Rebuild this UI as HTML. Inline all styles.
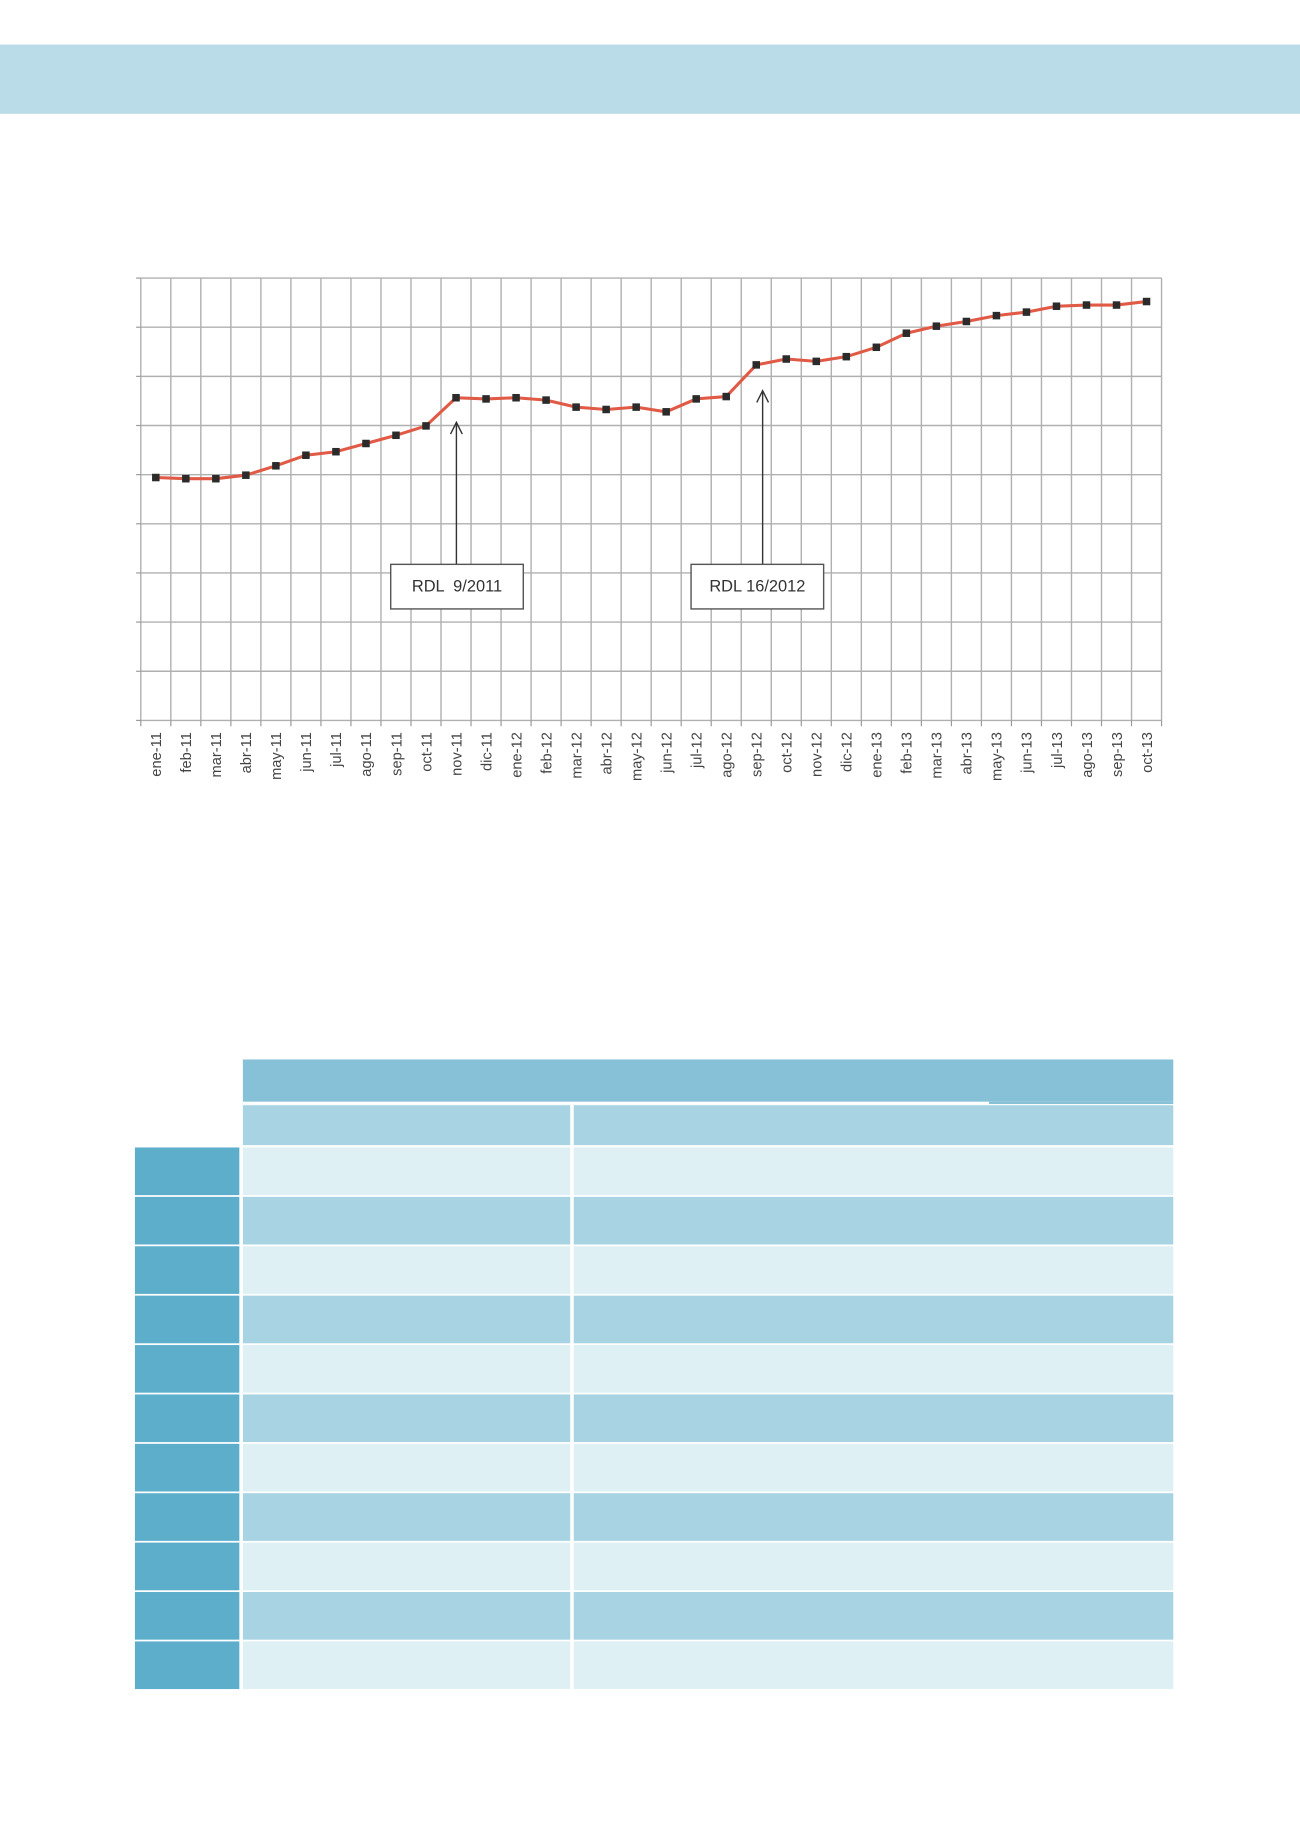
<!DOCTYPE html>
<html><head><meta charset="utf-8"><style>
html,body{margin:0;padding:0;background:#fff}
svg{display:block}
</style></head><body>
<svg width="1300" height="1839" viewBox="0 0 1108 1567.4" xmlns="http://www.w3.org/2000/svg" font-family="Liberation Sans, sans-serif">
<rect x="0" y="38" width="1108" height="59" fill="#b9dce8"/>
<g id="grid" stroke="#b0b0b0" stroke-width="1.2"></g>
<g id="ticks" stroke="#999" stroke-width="1"></g>
<g id="labels" font-size="12.5" fill="#444"></g>
<polyline id="ln" fill="none" stroke="#e05a45" stroke-width="2.6" stroke-linejoin="round"/>
<g id="mk" fill="#2b2b2b"></g>
<g stroke="#333" stroke-width="1.2" fill="none">
<line x1="389" y1="481" x2="389" y2="361"/><polyline points="384,370 389,360 394,370"/>
<line x1="650" y1="481" x2="650" y2="334"/><polyline points="645,343 650,333 655,343"/>
</g>
<rect x="333" y="481" width="113" height="38" fill="#fff" stroke="#555" stroke-width="1.2"/>
<text x="389.5" y="504" font-size="14" text-anchor="middle" fill="#333" xml:space="preserve">RDL  9/2011</text>
<rect x="589" y="481" width="113" height="38" fill="#fff" stroke="#555" stroke-width="1.2"/>
<text x="645.5" y="504" font-size="14" text-anchor="middle" fill="#333">RDL 16/2012</text>

<rect x="207" y="903" width="793" height="36" fill="#86c1d8"/>
<rect x="207" y="939" width="793" height="2" fill="#86c1d8"/>
<rect x="207" y="939" width="636" height="2" fill="#fff"/>
<rect x="207" y="942" width="279" height="34" fill="#a8d3e2"/>
<rect x="489" y="942" width="511" height="34" fill="#a8d3e2"/>
<g id="tbl"></g>
</svg>
<script>
var ns="http://www.w3.org/2000/svg";
function el(p,t,a){var e=document.createElementNS(ns,t);for(var k in a)e.setAttribute(k,a[k]);document.getElementById(p).appendChild(e);return e;}
var L=120,R=990,T=237,B=614,n=34,w=(R-L)/n;
for(var i=0;i<=9;i++){var y=T+(B-T)*i/9;el("grid","line",{x1:L,x2:R,y1:y,y2:y});el("ticks","line",{x1:L-4,x2:L,y1:y,y2:y});}
for(var k=0;k<=n;k++){var x=L+w*k;el("grid","line",{x1:x,x2:x,y1:T,y2:B});el("ticks","line",{x1:x,x2:x,y1:B,y2:B+5});}
var labs="ene-11 feb-11 mar-11 abr-11 may-11 jun-11 jul-11 ago-11 sep-11 oct-11 nov-11 dic-11 ene-12 feb-12 mar-12 abr-12 may-12 jun-12 jul-12 ago-12 sep-12 oct-12 nov-12 dic-12 ene-13 feb-13 mar-13 abr-13 may-13 jun-13 jul-13 ago-13 sep-13 oct-13".split(" ");
var ys=[407,408,408,405,397,388,385,378,371,363,339,340,339,341,347,349,347,351,340,338,311,306,308,304,296,284,278,274,269,266,261,260,260,257];
var pts=[];
for(var i=0;i<n;i++){var x=L+w*(i+0.5);pts.push(x+","+ys[i]);
el("mk","rect",{x:x-3.2,y:ys[i]-3.2,width:6.4,height:6.4});
var t=el("labels","text",{x:0,y:0,"text-anchor":"end",transform:"translate("+(x+4.5)+",624) rotate(-90)"});t.textContent=labs[i];}
document.getElementById("ln").setAttribute("points",pts.join(" "));
var y0=978,h=42.1;
for(var r=0;r<11;r++){var y=y0+r*h;var c=r%2?"#a8d3e2":"#dff0f5";
el("tbl","rect",{x:115,y:y,width:89,height:h-1.5,fill:"#5caecb"});
el("tbl","rect",{x:207,y:y,width:279,height:h-1.5,fill:c});
el("tbl","rect",{x:489,y:y,width:511,height:h-1.5,fill:c});}
</script>
</body></html>
